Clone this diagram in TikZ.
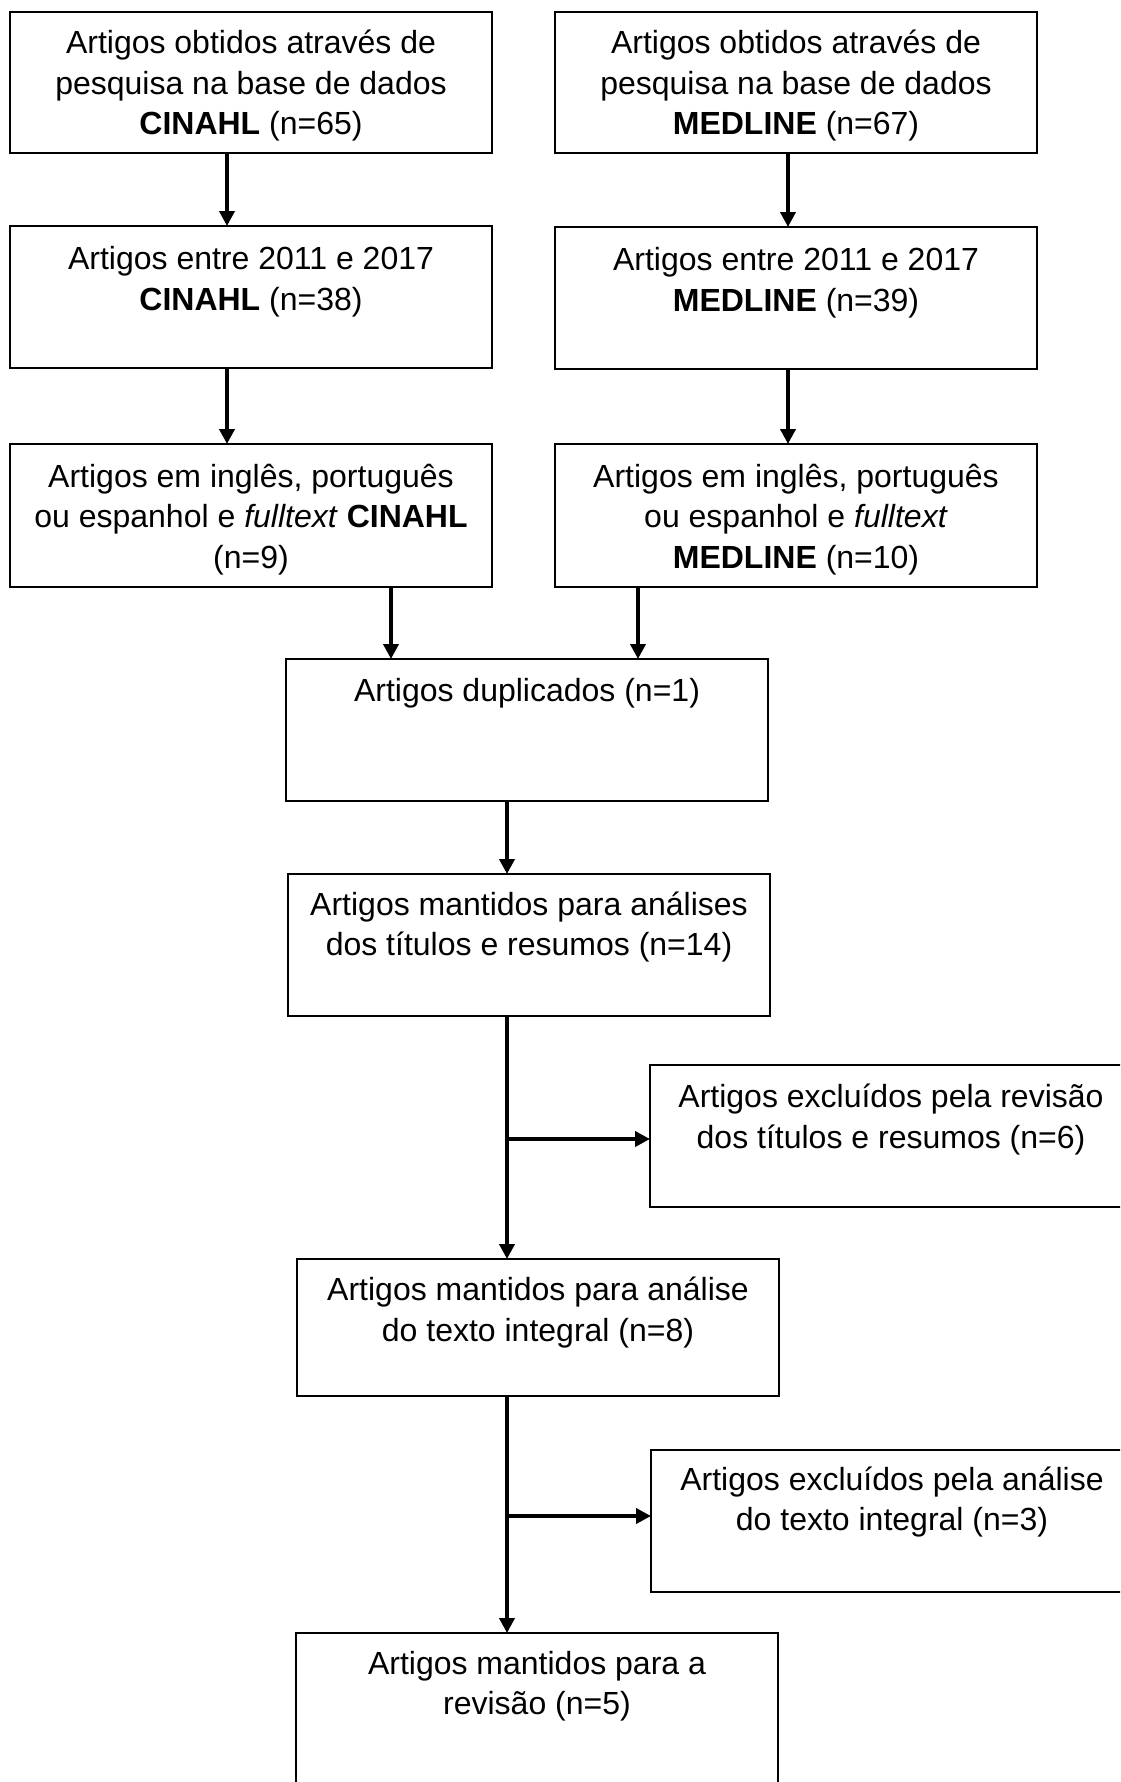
\documentclass[tikz,border=0pt]{standalone}
\usepackage{fontspec}
\setmainfont{Liberation Sans}
\usetikzlibrary{arrows.meta}
\begin{document}
\begin{tikzpicture}[x=1pt,y=-1pt,
  box/.style={draw, line width=2.2pt, inner sep=0pt, outer sep=0pt, anchor=north west, minimum width=482pt},
  txt/.style={anchor=base, align=center, inner sep=0pt, font=\fontsize{32}{40.5}\selectfont},
  arr/.style={line width=4.3pt, -{Triangle[length=15pt,width=15pt]}}]
\useasboundingbox (0,0) rectangle (1120,1782);
\clip (0,0) rectangle (1120,1782);
\fill[white] (0,0) rectangle (1120,1782);

% boxes
\node[box, minimum height=141pt] (c1) at (10,12) {};
\node[box, minimum height=141pt] (m1) at (555,12) {};
\node[box, minimum height=142pt] (c2) at (10,226) {};
\node[box, minimum height=142pt] (m2) at (555,227) {};
\node[box, minimum height=143pt] (c3) at (10,444) {};
\node[box, minimum height=143pt] (m3) at (555,444) {};
\node[box, minimum height=142pt] (dup) at (286,659) {};
\node[box, minimum height=142pt] (man1) at (288,874) {};
\node[box, minimum height=142pt] (ex1) at (650,1065) {};
\node[box, minimum height=137pt] (man2) at (297,1259) {};
\node[box, minimum height=142pt] (ex2) at (651,1450) {};
\node[box, minimum height=200pt] (fin) at (296,1633) {};

% texts (base anchor = baseline of last line)
\node[txt] (c1t) at ([yshift=-123pt]c1.north) {Artigos obtidos através de\\pesquisa na base de dados\\\textbf{CINAHL} (n=65)};
\node[txt] (m1t) at ([yshift=-123pt]m1.north) {Artigos obtidos através de\\pesquisa na base de dados\\\textbf{MEDLINE} (n=67)};
\node[txt] (c2t) at ([yshift=-84pt]c2.north) {Artigos entre 2011 e 2017\\\textbf{CINAHL} (n=38)};
\node[txt] (m2t) at ([yshift=-84pt]m2.north) {Artigos entre 2011 e 2017\\\textbf{MEDLINE} (n=39)};
\node[txt] (c3t) at ([yshift=-124pt]c3.north) {Artigos em inglês, português\\ou espanhol e \textit{fulltext} \textbf{CINAHL}\\(n=9)};
\node[txt] (m3t) at ([yshift=-124pt]m3.north) {Artigos em inglês, português\\ou espanhol e \textit{fulltext}\\\textbf{MEDLINE} (n=10)};
\node[txt] (dupt) at ([yshift=-42pt]dup.north) {Artigos duplicados (n=1)};
\node[txt] (man1t) at ([yshift=-81.5pt]man1.north) {Artigos mantidos para análises\\dos títulos e resumos (n=14)};
\node[txt] (ex1t) at ([yshift=-83pt]ex1.north) {Artigos excluídos pela revisão\\dos títulos e resumos (n=6)};
\node[txt] (man2t) at ([yshift=-82pt]man2.north) {Artigos mantidos para análise\\do texto integral (n=8)};
\node[txt] (ex2t) at ([yshift=-80.5pt]ex2.north) {Artigos excluídos pela análise\\do texto integral (n=3)};
\node[txt] (fint) at ([yshift=-81.5pt]fin.north) {Artigos mantidos para a\\revisão (n=5)};

% connectors
\draw[arr] ([xshift=-24pt]c1.south) -- ([xshift=-24pt]c1.south |- c2.north);
\draw[arr] ([xshift=-8pt]m1.south) -- ([xshift=-8pt]m1.south |- m2.north);
\draw[arr] ([xshift=-24pt]c2.south) -- ([xshift=-24pt]c2.south |- c3.north);
\draw[arr] ([xshift=-8pt]m2.south) -- ([xshift=-8pt]m2.south |- m3.north);
\draw[arr] ([xshift=140pt]c3.south) -- ([xshift=140pt]c3.south |- dup.north);
\draw[arr] ([xshift=-158pt]m3.south) -- ([xshift=-158pt]m3.south |- dup.north);
\draw[arr] ([xshift=-20pt]dup.south) -- ([xshift=-20pt]dup.south |- man1.north);
\draw[arr] ([xshift=-22pt]man1.south) -- ([xshift=-22pt]man1.south |- man2.north);
\draw[arr] ([xshift=-31pt]man2.south) -- ([xshift=-31pt]man2.south |- fin.north);
\coordinate (b1) at (507,1139);
\coordinate (b2) at (507,1516);
\draw[arr] (b1) -- (b1 -| ex1.west);
\draw[arr] (b2) -- (b2 -| ex2.west);
\end{tikzpicture}
\end{document}
